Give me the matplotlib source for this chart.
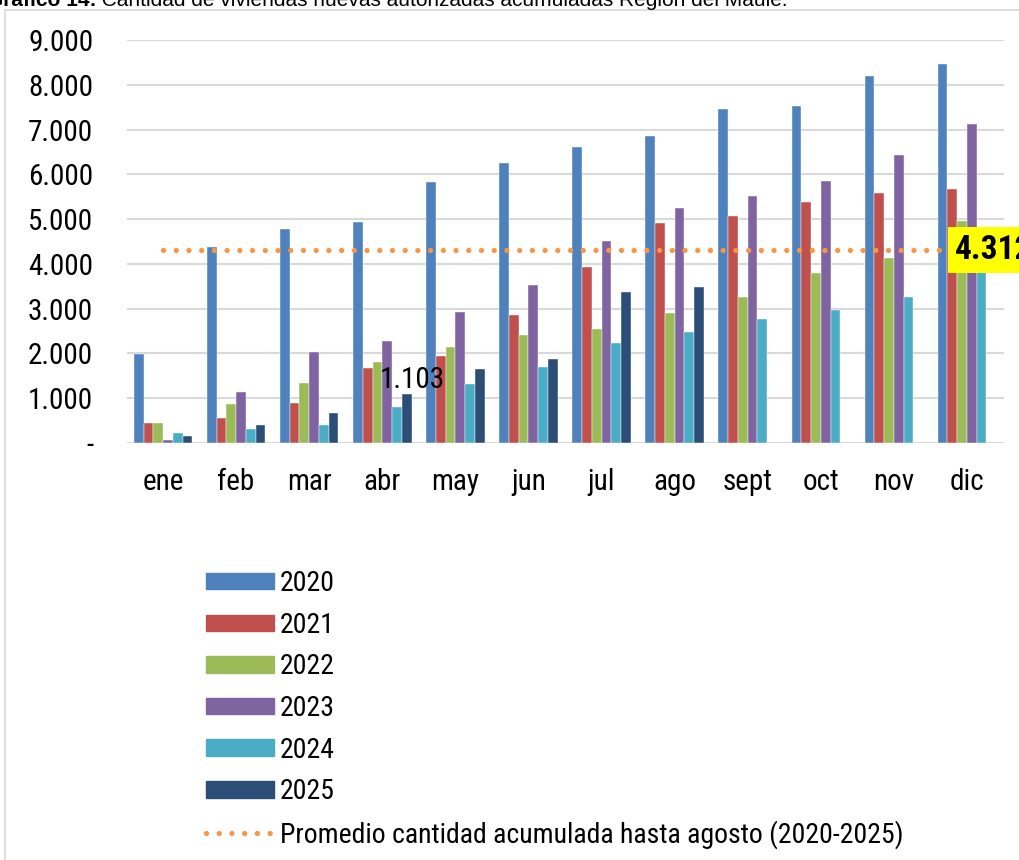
# -*- coding: utf-8 -*-
# Grafico 14: viviendas nuevas autorizadas acumuladas, Region del Maule
import matplotlib
matplotlib.use('Agg')
import matplotlib.pyplot as plt
import matplotlib.patches as mpatches
import matplotlib.lines as mlines
import numpy as np

meses = ['ene', 'feb', 'mar', 'abr', 'may', 'jun', 'jul', 'ago', 'sept', 'oct', 'nov', 'dic']
v2020 = [1990, 4370, 4780, 4925, 5820, 6250, 6615, 6850, 7450, 7520, 8190, 8460]
v2021 = [455, 565, 900, 1665, 1935, 2850, 3920, 4905, 5060, 5390, 5575, 5680]
v2022 = [440, 870, 1330, 1810, 2145, 2405, 2545, 2900, 3255, 3790, 4125, 4965]
v2023 = [75, 1140, 2030, 2285, 2915, 3520, 4515, 5240, 5505, 5850, 6435, 7115]
v2024 = [230, 310, 395, 795, 1325, 1690, 2225, 2485, 2770, 2975, 3270, 3950]
v2025 = [150, 395, 670, 1103, 1645, 1875, 3365, 3480]
anios = ['2020', '2021', '2022', '2023', '2024', '2025']
colores = ['#4F81BD', '#C0504D', '#9BBB59', '#8064A2', '#4BACC6', '#2C4D75']
promedio = 4312
label_prom = 'Promedio cantidad acumulada hasta agosto (2020-2025)'
titulo_b = 'Gráfico 14:'
titulo = ' Cantidad de viviendas nuevas autorizadas acumuladas Región del Maule.'

W, H = 1019, 860
fig = plt.figure(figsize=(W / 100, H / 100), dpi=100)
# narrow sans (Arial Narrow look), with fallbacks
familia = ['Roboto Condensed', 'Pragati Narrow', 'PT Sans Narrow', 'IBM Plex Sans Condensed',
           'Archivo Narrow', 'Liberation Sans', 'DejaVu Sans']
plt.rcParams['font.family'] = familia
fs = 21
fs_leg = 20
fpx = fs_leg * 100 / 72

ax = fig.add_axes([126.5 / W, (H - 443) / H, 877 / W, 403 / H])

# outer chart frame (cut by the page)
fig.patches.append(mpatches.Rectangle((4.5 / W, -0.1), 1.2, 1.1 - 9.5 / H,
                                      transform=fig.transFigure, fill=False,
                                      edgecolor='#D9D9D9', linewidth=1.2, zorder=0))

series = [v2020, v2021, v2022, v2023, v2024, v2025]
w = 1 / 7.5
for k, vals in enumerate(series):
    x = np.arange(len(vals)) + (k - 2.5) * w
    ax.bar(x, vals, width=w, color=colores[k], edgecolor='white', linewidth=0.3,
           label=anios[k], zorder=2)

x = np.arange(len(meses))
ax.plot(x, [promedio] * len(meses), color='#F79646', linewidth=3.8,
        linestyle=(0, (0.01, 2.4)), dash_capstyle='round', zorder=3)

ax.annotate('1.103', xy=(3 + 2.5 * w, v2025[3]), xytext=(4, 0),
            textcoords='offset points', ha='center', va='bottom',
            fontsize=fs, color='black', zorder=4)
ax.annotate('4.312', xy=(11, promedio), xytext=(-9, 0), textcoords='offset points',
            ha='left', va='center', fontsize=24, fontweight='bold', color='black',
            bbox=dict(boxstyle='square,pad=0.2', facecolor='#FFFF00', edgecolor='none'),
            annotation_clip=False, zorder=5)

ax.set_xlim(-0.5, 11.5)
ax.set_ylim(0, 9000)
ax.set_yticks(np.arange(0, 9001, 1000))
ax.set_yticklabels(['-'] + ['{:,}'.format(v).replace(',', '.') for v in range(1000, 9001, 1000)])
ax.set_xticks(x)
ax.set_xticklabels(meses)
ax.tick_params(axis='both', length=0, labelsize=fs)
ax.tick_params(axis='y', pad=24)
ax.tick_params(axis='x', pad=18)
ax.grid(axis='y', color='#D9D9D9', linewidth=1.5, zorder=0)
ax.set_axisbelow(True)
for s in ax.spines.values():
    s.set_visible(False)

handles = [mpatches.Patch(color=c, label=a) for c, a in zip(colores, anios)]
handles.append(mlines.Line2D([], [], color='#F79646', linewidth=3.8,
                             linestyle=(0, (0.01, 2.4)), dash_capstyle='round',
                             label=label_prom))
fig.legend(handles=handles, loc='upper left', bbox_to_anchor=(206 / W, (H - 570) / H),
           frameon=False, fontsize=fs_leg, borderpad=0, borderaxespad=0,
           handlelength=68 / fpx, handleheight=15 / fpx, handletextpad=6 / fpx,
           labelspacing=0.527)

# caption at the top, cut off by the page edge
t1 = fig.text(-13 / W, (H - 6) / H, titulo_b, fontsize=15, fontweight='bold',
              family=['Liberation Sans', 'DejaVu Sans'], va='baseline', ha='left')
fig.canvas.draw()
bb = t1.get_window_extent()
fig.text(bb.x1 / W, (H - 6) / H, titulo, fontsize=15,
         family=['Liberation Sans', 'DejaVu Sans'], va='baseline', ha='left')

fig.savefig('out.png', dpi=100)
